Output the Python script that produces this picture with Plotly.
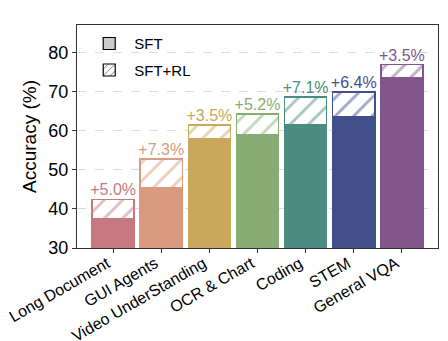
import plotly.graph_objects as go

categories = ["Long Document", "GUI Agents", "Video UnderStanding", "OCR & Chart",
              "Coding", "STEM", "General VQA"]
sft = [37.4, 45.4, 57.9, 59.0, 61.5, 63.5, 73.4]
gain = [5.0, 7.3, 3.5, 5.2, 7.1, 6.4, 3.5]
colors = ["#c87880", "#d99a80", "#c9a75b", "#88ad72", "#4a8c80", "#424f8b", "#82568a"]
gain_labels = ["+%.1f%%" % g for g in gain]
totals = [s + g for s, g in zip(sft, gain)]

FONT = "Liberation Sans, Arial, sans-serif"

fig = go.Figure()
fig.add_trace(go.Bar(
    x=categories, y=sft, showlegend=False,
    marker=dict(color=colors, opacity=1, line=dict(color=colors, width=1.5)),
))
fig.add_trace(go.Bar(
    x=categories, y=gain, showlegend=False,
    marker=dict(color="white", line=dict(color=colors, width=1.5),
                pattern=dict(shape="/", fgcolor=colors, bgcolor="white",
                             size=13, solidity=0.22)),
))
fig.add_trace(go.Scatter(
    x=categories, y=totals, mode="text", text=gain_labels,
    textposition="top center", showlegend=False,
    textfont=dict(color=colors, size=16, family=FONT), cliponaxis=False,
))
# legend entries
fig.add_trace(go.Bar(x=[None], y=[None], name="SFT", legendgroup="a",
                     marker=dict(color="#cccccc", line=dict(color="black", width=1.2))))
fig.add_trace(go.Bar(x=[None], y=[None], name="SFT+RL", legendgroup="b",
                     marker=dict(color="white", line=dict(color="black", width=1.2),
                                 pattern=dict(shape="/", fgcolor="black", bgcolor="white",
                                              size=6, solidity=0.2))))

fig.update_layout(
    barmode="stack", bargap=0.125,
    width=448, height=341,
    margin=dict(l=77, r=10, t=25, b=93),
    plot_bgcolor="white", paper_bgcolor="white",
    font=dict(family=FONT, size=15, color="black"),
    legend=dict(x=0.02, y=0.99, xanchor="left", yanchor="top", itemwidth=40,
                font=dict(size=15), bgcolor="rgba(0,0,0,0)", traceorder="grouped",
                tracegroupgap=4),
)
fig.update_xaxes(
    range=[-0.75, 6.75], tickangle=-30, tickfont=dict(size=16), automargin=False,
    ticklabelshift=-6, ticklabelstandoff=-5,
    showline=True, mirror=True, linecolor="#333333", linewidth=1.2,
    ticks="outside", ticklen=4, tickcolor="#333333", showgrid=False,
)
fig.update_yaxes(
    range=[30, 87], tickvals=[30, 40, 50, 60, 70, 80], tickfont=dict(size=18),
    title=dict(text="Accuracy (%)", font=dict(size=19), standoff=6),
    automargin=False,
    showline=True, mirror=True, linecolor="#333333", linewidth=1.2,
    ticks="outside", ticklen=4, tickcolor="#333333",
    showgrid=True, gridcolor="#dddddd", griddash="dash", gridwidth=1,
    zeroline=False,
)

fig.write_html("out.html")
